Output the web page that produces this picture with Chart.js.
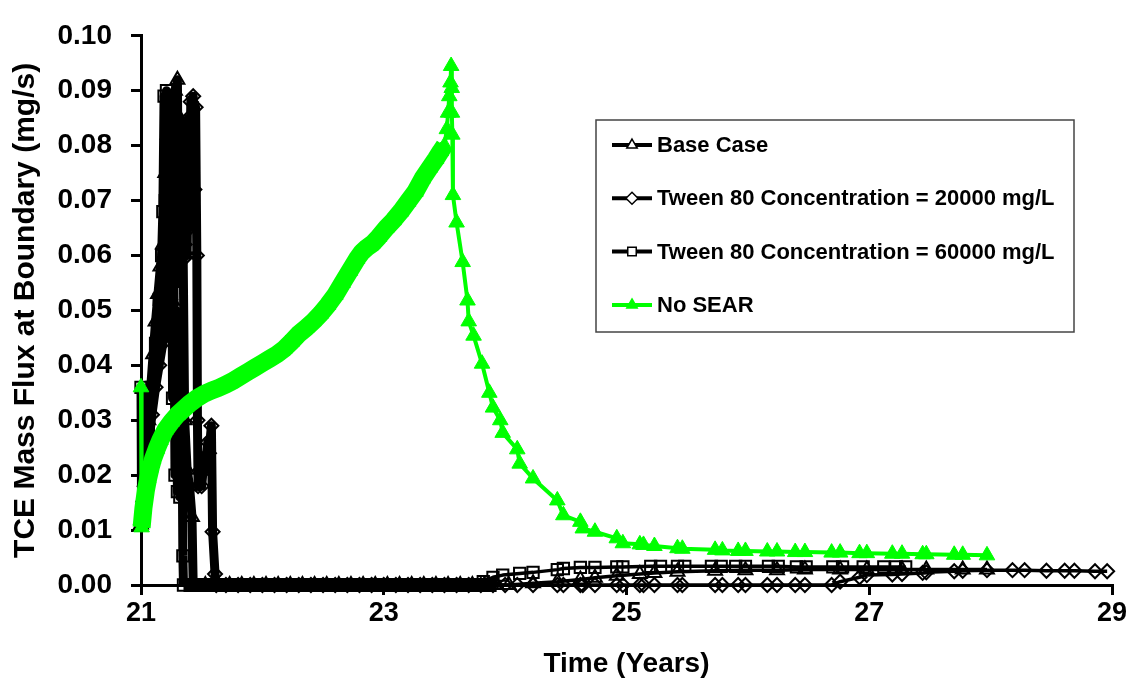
<!DOCTYPE html>
<html>
<head>
<meta charset="utf-8">
<script src="https://cdn.jsdelivr.net/npm/chart.js"></script>
<style>
  html, body { margin: 0; padding: 0; background: #fff; }
</style>
</head>
<body>
<canvas id="myChart" width="1130" height="685"></canvas>
<script>
// Time (years) and TCE mass flux (mg/s)
var baseTime = [
  21.00, 21.02, 21.04, 21.06, 21.08, 21.10, 21.12, 21.14, 21.16, 21.18,
  21.19, 21.20, 21.21, 21.22, 21.23, 21.24, 21.25, 21.26, 21.27, 21.28,
  21.29, 21.30, 21.31, 21.32, 21.33, 21.34, 21.36, 21.38, 21.40, 21.42,
  21.43, 21.53, 21.63, 21.73, 21.83, 21.93, 22.03, 22.13, 22.23, 22.33,
  22.43, 22.53, 22.63, 22.73, 22.83, 22.93, 23.03, 23.13, 23.23, 23.33,
  23.43, 23.53, 23.63, 23.73, 23.83, 23.93, 24.03, 24.23, 24.43, 24.62,
  24.74, 24.92, 25.11, 25.23, 25.42, 25.73, 25.98, 26.24, 26.47, 26.76,
  26.98, 27.27, 27.47, 27.77, 27.97
];
var baseFlux = [
  0.011, 0.016, 0.022, 0.030, 0.036, 0.042, 0.048, 0.053, 0.058, 0.062,
  0.045, 0.075, 0.050, 0.082, 0.048, 0.086, 0.052, 0.088, 0.055, 0.090,
  0.058, 0.092, 0.060, 0.085, 0.062, 0.078, 0.030, 0.021, 0.018, 0.0124,
  0, 0, 0, 0, 0, 0, 0, 0, 0, 0,
  0, 0, 0, 0, 0, 0, 0, 0, 0, 0,
  0, 0, 0, 0, 0, 0, 0, 0.0003, 0.0006, 0.0010,
  0.0013, 0.0017, 0.0020, 0.0022, 0.0024, 0.0026, 0.0027, 0.0027, 0.0028, 0.0028,
  0.0028, 0.0028, 0.0028, 0.0028, 0.0028
];

var tw20Time = [
  21.00, 21.03, 21.06, 21.09, 21.12, 21.15, 21.18, 21.21, 21.24, 21.27,
  21.30, 21.33, 21.36, 21.37, 21.38, 21.39, 21.40, 21.41, 21.42, 21.43,
  21.44, 21.45, 21.46, 21.465, 21.47, 21.49, 21.50, 21.52, 21.53, 21.55,
  21.56, 21.58, 21.59, 21.61, 21.62, 21.70, 21.80, 21.90, 22.00, 22.10,
  22.20, 22.30, 22.40, 22.50, 22.60, 22.70, 22.80, 22.90, 23.00, 23.10,
  23.20, 23.30, 23.40, 23.50, 23.60, 23.70, 23.80, 23.90, 24.00, 24.10,
  24.23, 24.43, 24.48, 24.62, 24.64, 24.74, 24.92, 24.97, 25.11, 25.14,
  25.23, 25.42, 25.46, 25.73, 25.79, 25.92, 25.98, 26.16, 26.24, 26.39,
  26.47, 26.69, 26.76, 26.92, 26.98, 27.19, 27.27, 27.44, 27.47, 27.70,
  27.77, 27.97, 28.18, 28.28, 28.46, 28.61, 28.69, 28.86, 28.96
];
var tw20Flux = [
  0.011, 0.018, 0.025, 0.031, 0.036, 0.040, 0.044, 0.048, 0.052, 0.055,
  0.058, 0.060, 0.062, 0.075, 0.060, 0.085, 0.065, 0.088, 0.070, 0.089,
  0.072, 0.087, 0.060, 0.030, 0.018, 0.021, 0.018, 0.023, 0.021, 0.026,
  0.024, 0.029, 0.0097, 0.002, 0, 0, 0, 0, 0, 0,
  0, 0, 0, 0, 0, 0, 0, 0, 0, 0,
  0, 0, 0, 0, 0, 0, 0, 0, 0, 0,
  0, 0, 0, 0, 0, 0, 0, 0, 0, 0,
  0, 0, 0, 0, 0, 0, 0, 0, 0, 0,
  0, 0, 0.0006, 0.0014, 0.0018, 0.0019, 0.0020, 0.0022, 0.0023, 0.0025,
  0.0026, 0.0027, 0.0027, 0.0027, 0.0026, 0.0026, 0.0026, 0.0025, 0.0025
];

var tw60Time = [
  21.00, 21.005, 21.03, 21.06, 21.09, 21.12, 21.15, 21.17, 21.18, 21.19,
  21.20, 21.21, 21.22, 21.23, 21.24, 21.25, 21.26, 21.27, 21.28, 21.29,
  21.30, 21.31, 21.32, 21.33, 21.34, 21.345, 21.35, 21.45, 21.55, 21.65,
  21.75, 21.85, 21.95, 22.05, 22.15, 22.25, 22.35, 22.45, 22.55, 22.65,
  22.75, 22.85, 22.95, 23.05, 23.15, 23.25, 23.35, 23.45, 23.55, 23.65,
  23.75, 23.82, 23.90, 23.98, 24.12, 24.23, 24.43, 24.48, 24.62, 24.74,
  24.92, 24.97, 25.20, 25.28, 25.42, 25.48, 25.70, 25.78, 25.90, 25.98,
  26.17, 26.25, 26.40, 26.48, 26.70, 26.78, 26.95, 27.12, 27.22, 27.30
];
var tw60Flux = [
  0.036, 0.011, 0.020, 0.028, 0.036, 0.044, 0.052, 0.060, 0.068, 0.089,
  0.070, 0.090, 0.072, 0.088, 0.075, 0.085, 0.034, 0.060, 0.020, 0.050,
  0.017, 0.040, 0.016, 0.028, 0.022, 0.0053, 0, 0, 0, 0,
  0, 0, 0, 0, 0, 0, 0, 0, 0, 0,
  0, 0, 0, 0, 0, 0, 0, 0, 0, 0,
  0, 0.0006, 0.0014, 0.0018, 0.0021, 0.0023, 0.0028, 0.0030, 0.0032, 0.0032,
  0.0033, 0.0033, 0.0034, 0.0034, 0.0034, 0.0034, 0.0034, 0.0034, 0.0034, 0.0034,
  0.0034, 0.0034, 0.0033, 0.0033, 0.0033, 0.0033, 0.0033, 0.0033, 0.0033, 0.0033
];

var noSearTime = [
  21.00, 21.005, 21.02, 21.04, 21.06, 21.08, 21.10, 21.13, 21.16, 21.20,
  21.25, 21.30, 21.35, 21.40, 21.46, 21.52, 21.58, 21.64, 21.70, 21.76,
  21.82, 21.88, 21.94, 22.00, 22.06, 22.12, 22.18, 22.24, 22.30, 22.36,
  22.42, 22.48, 22.54, 22.60, 22.66, 22.72, 22.78, 22.82, 22.86, 22.91,
  22.96, 23.02, 23.08, 23.14, 23.20, 23.26, 23.32, 23.38, 23.43, 23.47,
  23.50, 23.52, 23.53, 23.54, 23.55, 23.555, 23.56, 23.562, 23.565, 23.57,
  23.60, 23.65, 23.69, 23.70, 23.74, 23.81, 23.87, 23.90, 23.96, 23.98,
  24.10, 24.12, 24.23, 24.43, 24.48, 24.62, 24.64, 24.74, 24.92, 24.97,
  25.11, 25.14, 25.23, 25.42, 25.46, 25.73, 25.79, 25.92, 25.98, 26.16,
  26.24, 26.39, 26.47, 26.69, 26.76, 26.92, 26.98, 27.19, 27.27, 27.44,
  27.47, 27.70, 27.77, 27.97
];
var noSearFlux = [
  0.036, 0.0105, 0.0140, 0.0172, 0.0195, 0.0214, 0.0230, 0.0248, 0.0264, 0.0282,
  0.0297, 0.0310, 0.0320, 0.0330, 0.0340, 0.0348, 0.0354, 0.0359, 0.0365, 0.0372,
  0.0380, 0.0388, 0.0396, 0.0404, 0.0412, 0.0420, 0.0430, 0.0443, 0.0457, 0.0468,
  0.0480, 0.0494, 0.0510, 0.0528, 0.0550, 0.0572, 0.0594, 0.0606, 0.0614, 0.0622,
  0.0634, 0.0650, 0.0664, 0.0680, 0.0698, 0.0716, 0.0740, 0.0760, 0.0776, 0.0790,
  0.0800, 0.0830, 0.0860, 0.0890, 0.0915, 0.0945, 0.0905, 0.0860, 0.0820, 0.0710,
  0.0660, 0.0588, 0.0518, 0.0480, 0.0454, 0.0403, 0.0350, 0.0323, 0.0300, 0.0277,
  0.0247, 0.0221, 0.0194, 0.0154, 0.0127, 0.0115, 0.0103, 0.0097, 0.0085, 0.0076,
  0.0074, 0.0073, 0.0071, 0.0067, 0.0066, 0.0064, 0.0063, 0.0062, 0.0062, 0.0061,
  0.0061, 0.0060, 0.0060, 0.0059, 0.0059, 0.0058, 0.0058, 0.0057, 0.0057, 0.0056,
  0.0056, 0.0055, 0.0055, 0.0054
];

var seriesNames = [
  'Base Case',
  'Tween 80 Concentration = 20000 mg/L',
  'Tween 80 Concentration = 60000 mg/L',
  'No SEAR'
];

var FONT = '"Liberation Sans", Arial, Helvetica, sans-serif';

function pairs(t, v) {
  return t.map(function (x, i) { return { x: x, y: v[i] }; });
}

// the densely sampled stretches print as a solid band of overlapping markers
function blackWidth(c) {
  var a = c.p0.parsed, b = c.p1.parsed;
  if (a.y === 0 && b.y === 0 && b.x < 23.96) return 14;
  if (b.x < 21.63) return 9;
  return 3.5;
}
function greenWidth(c) {
  var a = c.p0.parsed, b = c.p1.parsed;
  if (a.x > 21.001 && b.x <= 23.5) return 18;
  return 4;
}

function blackSeries(name, t, v, style, radius, order) {
  return {
    label: name,
    data: pairs(t, v),
    showLine: true,
    borderColor: '#000000',
    borderWidth: 3.5,
    borderJoinStyle: 'round',
    segment: { borderWidth: blackWidth },
    pointStyle: style,
    pointRadius: radius,
    pointBorderWidth: 2,
    pointBorderColor: '#000000',
    pointBackgroundColor: 'rgba(0,0,0,0)',
    clip: false,
    order: order
  };
}

// legend box drawn inside the plot, like the original
var legendBox = {
  id: 'legendBox',
  afterDatasetsDraw: function (chart) {
    var ctx = chart.ctx;
    ctx.save();
    ctx.fillStyle = '#ffffff';
    ctx.fillRect(596, 120, 478, 212);
    ctx.lineWidth = 1.5;
    ctx.strokeStyle = '#444444';
    ctx.strokeRect(596, 120, 478, 212);
    ctx.font = 'bold 22px ' + FONT;
    ctx.textBaseline = 'middle';
    chart.data.datasets.forEach(function (ds, i) {
      var y = 145 + i * 53.3;
      ctx.strokeStyle = ds.borderColor;
      ctx.lineWidth = 4;
      ctx.beginPath();
      ctx.moveTo(612, y);
      ctx.lineTo(652, y);
      ctx.stroke();
      ctx.fillStyle = ds.pointBackgroundColor === '#00ff00' ? '#00ff00' : '#ffffff';
      ctx.strokeStyle = ds.pointBorderColor;
      ctx.lineWidth = 1.5;
      if (Chart.helpers && Chart.helpers.drawPoint) {
        Chart.helpers.drawPoint(ctx, { pointStyle: ds.pointStyle, radius: 6, rotation: 0, borderWidth: 1.5 }, 632, y);
      }
      ctx.fillStyle = '#000000';
      ctx.fillText(ds.label, 657, y + 1);
    });
    ctx.restore();
  }
};

var ctx = document.getElementById('myChart');
var chart = new Chart(ctx, {
  type: 'scatter',
  data: {
    datasets: [
      blackSeries(seriesNames[0], baseTime, baseFlux, 'triangle', 8, 3),
      blackSeries(seriesNames[1], tw20Time, tw20Flux, 'rectRot', 7, 2),
      blackSeries(seriesNames[2], tw60Time, tw60Flux, 'rect', 8, 1),
      {
        label: seriesNames[3],
        data: pairs(noSearTime, noSearFlux),
        showLine: true,
        borderColor: '#00ff00',
        borderWidth: 4,
        borderJoinStyle: 'round',
        segment: { borderWidth: greenWidth },
        pointStyle: 'triangle',
        pointRadius: 9,
        pointBorderWidth: 1,
        pointBorderColor: '#00ff00',
        pointBackgroundColor: '#00ff00',
        clip: false,
        order: 0
      }
    ]
  },
  options: {
    responsive: false,
    animation: false,
    events: [],
    layout: { padding: { top: 19, right: 18, left: 0, bottom: 0 } },
    plugins: { legend: { display: false }, tooltip: { enabled: false } },
    scales: {
      x: {
        type: 'linear',
        min: 21,
        max: 29,
        ticks: { stepSize: 2, color: '#000', padding: 2, font: { family: FONT, size: 27, weight: 'bold' } },
        grid: { drawOnChartArea: false, color: '#000', lineWidth: 3, tickLength: 10 },
        border: { color: '#000', width: 3 },
        title: { display: true, text: 'Time (Years)', color: '#000', padding: { top: 0, bottom: 4 },
                 font: { family: FONT, size: 28, weight: 'bold' } },
        afterFit: function (s) { s.height = 100; }
      },
      y: {
        min: 0,
        max: 0.1,
        ticks: {
          stepSize: 0.01, color: '#000', padding: 19,
          font: { family: FONT, size: 28, weight: 'bold' },
          callback: function (v) { return Number(v).toFixed(2); }
        },
        grid: { drawOnChartArea: false, color: '#000', lineWidth: 3, tickLength: 10 },
        border: { color: '#000', width: 3 },
        title: { display: true, text: 'TCE Mass Flux at Boundary (mg/s)', color: '#000', padding: { top: 8, bottom: 0 },
                 font: { family: FONT, size: 30, weight: 'bold' } },
        afterFit: function (s) { s.width = 141; }
      }
    }
  },
  plugins: [legendBox]
});
</script>
</body>
</html>
